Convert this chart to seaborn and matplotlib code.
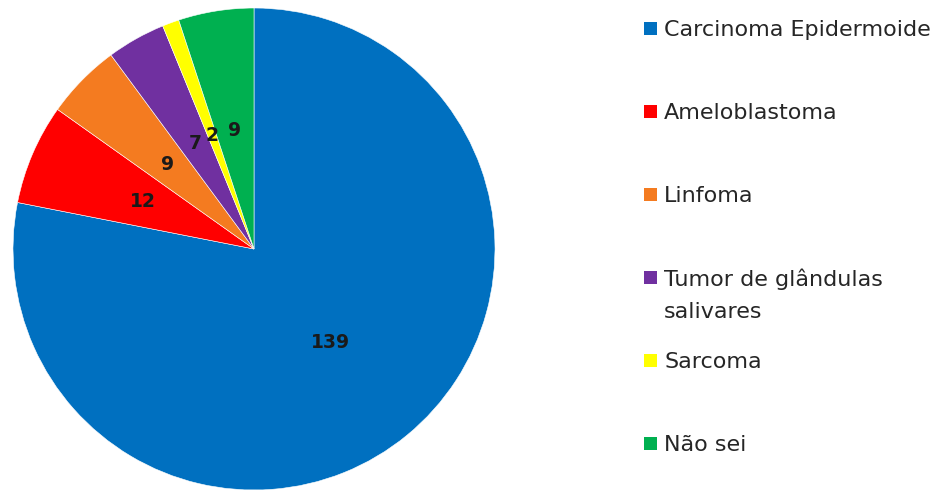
import matplotlib
matplotlib.use("Agg")
import matplotlib.pyplot as plt
from matplotlib.patches import Rectangle
import seaborn as sns

# Tumour types reported and their counts
categories = ["Carcinoma Epidermoide", "Ameloblastoma", "Linfoma",
              "Tumor de glândulas\nsalivares", "Sarcoma", "Não sei"]
counts = [139, 12, 9, 7, 2, 9]
colors = ["#0070C0", "#FF0000", "#F47B20", "#7030A0", "#FFFF00", "#00B050"]

sns.set_theme(style="white")
plt.rcParams["font.family"] = ["DejaVu Sans"]

W, H = 942, 492
fig = plt.figure(figsize=(W / 100, H / 100), dpi=100)
fig.patch.set_facecolor("white")


def px(x, y):
    """Pixel position (from top-left) to figure fraction."""
    return x / W, 1 - y / H


# Pie axes: centre (254, 249), radius 241 px
cx, cy, r = 254, 249, 241
ax = fig.add_axes([(cx - r) / W, 1 - (cy + r) / H, 2 * r / W, 2 * r / H])
total = sum(counts)
palette = sns.color_palette(colors)
wedges, _, autotexts = ax.pie(
    counts,
    colors=palette,
    startangle=90,
    counterclock=False,
    radius=1.0,
    autopct=lambda p: f"{round(p * total / 100):d}",
    pctdistance=0.5,
    wedgeprops=dict(edgecolor="white", linewidth=0.4),
    textprops=dict(fontsize=13.5, fontweight="bold", color="#1a1a1a"),
)
ax.set_xlim(-1, 1)
ax.set_ylim(-1, 1)
ax.set_aspect("equal")
ax.axis("off")

# Legend drawn as a column of swatches and labels
sq = 13
x_sq, x_txt = 644, 664
y0, step, line_gap = 28, 83, 33
for i, (label, col) in enumerate(zip(categories, palette)):
    yc = y0 + i * step
    fx, fy = px(x_sq, yc + sq / 2)
    fig.patches.append(Rectangle((fx, fy), sq / W, sq / H, transform=fig.transFigure,
                                 facecolor=col, edgecolor="none"))
    for k, line in enumerate(label.split("\n")):
        tx, ty = px(x_txt, yc + k * line_gap)
        fig.text(tx, ty, line, fontsize=16, color="#262626",
                 ha="left", va="center_baseline")

fig.savefig("out.png", dpi=100, facecolor="white")
